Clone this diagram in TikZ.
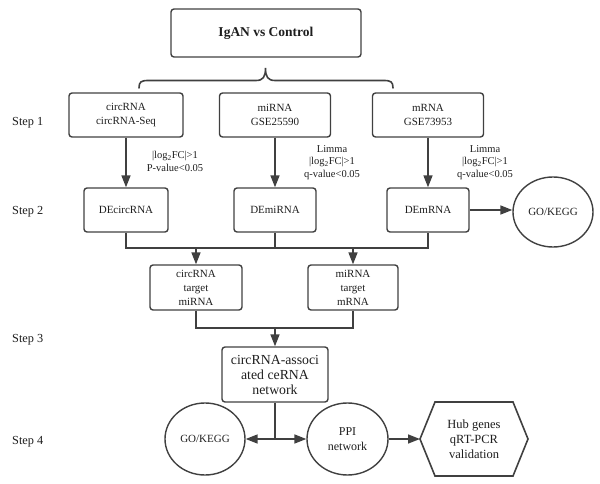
\documentclass[tikz,border=0pt]{standalone}
\usepackage{fontspec}
\setmainfont{Liberation Serif}
\usetikzlibrary{arrows.meta,shapes.geometric}
\definecolor{ln}{HTML}{404040}
\definecolor{tx}{HTML}{1E1E1E}
\tikzset{
  box/.style={draw=ln, line width=1.4pt, rounded corners=3pt, align=center, text=tx, inner sep=0pt, font=\fontsize{11}{14}\selectfont},
  circ/.style={draw=ln, line width=1.4pt, ellipse, align=center, text=tx, inner sep=0pt, minimum width=80pt, minimum height=72pt, font=\fontsize{11}{14}\selectfont},
  lbl/.style={align=center, text=tx, inner sep=0pt, font=\fontsize{10.5}{12.5}\selectfont},
  steplbl/.style={anchor=west, text=tx, inner sep=0pt, font=\fontsize{12.3}{14}\selectfont},
  conn/.style={draw=ln, line width=1.6pt},
  arr/.style={conn, -{Triangle[length=12pt,width=9pt]}}
}
\begin{document}
\begin{tikzpicture}[x=1pt,y=-1pt]
\useasboundingbox (0,0) rectangle (600,484);
% top
\node[box, minimum width=190pt, minimum height=48pt, font=\bfseries\fontsize{13.5}{16}\selectfont] (top) at (266,33) {IgAN vs Control};
% brace
\draw[conn, line cap=round] (139,88) .. controls (139,82) and (141,80.5) .. (148,80.5) -- (256,80.5) .. controls (263,80.5) and (265.5,77) .. (265.5,68)
  .. controls (265.5,77) and (268,80.5) .. (275,80.5) -- (384,80.5) .. controls (391,80.5) and (393,82) .. (393,88);
% step labels
\node[steplbl] (s1) at (12,123) {Step 1};
\node[steplbl] (s2) at (12,212) {Step 2};
\node[steplbl] (s3) at (12,340) {Step 3};
\node[steplbl] (s4) at (12,442) {Step 4};
% step 1
\node[box, minimum width=114pt, minimum height=44pt] (c1) at (126,115) {circRNA\\circRNA-Seq};
\node[box, minimum width=111pt, minimum height=44pt] (m1) at (275,115) {miRNA\\GSE25590};
\node[box, minimum width=111pt, minimum height=44pt] (r1) at (428,115) {mRNA\\GSE73953};
% step 2
\node[box, minimum width=84pt, minimum height=44pt] (c2) at (126,210) {DEcircRNA};
\node[box, minimum width=82pt, minimum height=44pt] (m2) at (275,210) {DEmiRNA};
\node[box, minimum width=82pt, minimum height=44pt] (r2) at (428,210) {DEmRNA};
\node[circ, minimum height=70pt] (go1) at (553,212) {GO/KEGG};
% labels
\node[lbl] (l1) at (175,161.5) {|log\textsubscript{2}FC|>1\\P-value<0.05};
\node[lbl] (l2) at (332,162.5) {Limma\\|log\textsubscript{2}FC|>1\\q-value<0.05};
\node[lbl] (l3) at (485,162.5) {Limma\\|log\textsubscript{2}FC|>1\\q-value<0.05};
\draw[arr] (c1.south -| c2) -- (c2.north);
\draw[arr] (m1.south -| m2) -- (m2.north);
\draw[arr] (r1.south -| r2) -- (r2.north);
\draw[arr] (r2.east) -- (r2.east -| go1.west);
% step 3
\node[box, minimum width=92pt, minimum height=45pt] (t1) at (196,287.5) {circRNA\\target\\miRNA};
\node[box, minimum width=90pt, minimum height=45pt] (t2) at (353,287.5) {miRNA\\target\\mRNA};
\coordinate (busL) at (126,248);
\coordinate (busR) at (428,248);
\draw[conn] (c2.south) -- (busL) -- (busR) -- (r2.south);
\draw[conn] (m2.south) -- (m2.south |- busL);
\draw[arr] (t1.north |- busL) -- (t1.north);
\draw[arr] (t2.north |- busL) -- (t2.north);
\node[box, minimum width=106pt, minimum height=55pt, font=\fontsize{13.8}{15}\selectfont] (ce) at (275,374.5) {circRNA-associ\\ated ceRNA\\network};
\coordinate (jn) at (275,328);
\draw[conn] (t1.south) -- (t1.south |- jn) -- (t2.south |- jn) -- (t2.south);
\draw[arr] (jn) -- (ce.north);
% step 4
\node[circ] (go2) at (205,439) {GO/KEGG};
\node[circ, minimum width=81pt, font=\fontsize{12}{15}\selectfont] (ppi) at (347.5,439) {PPI\\network};
\node[align=center, text=tx, inner sep=0pt, font=\fontsize{12.5}{15}\selectfont] (hub) at (474,439) {Hub genes\\qRT-PCR\\validation};
\draw[conn, line join=miter] (420,439) -- (435,402) -- (513,402) -- (528,439) -- (513,476) -- (435,476) -- cycle;
\coordinate (hexw) at (420,439);
\coordinate (hb) at (275,439);
\draw[conn] (ce.south) -- (hb);
\draw[arr] (hb) -- (go2.east);
\draw[arr] (hb) -- (ppi.west);
\draw[arr] (ppi.east) -- (hexw);
\end{tikzpicture}
\end{document}
